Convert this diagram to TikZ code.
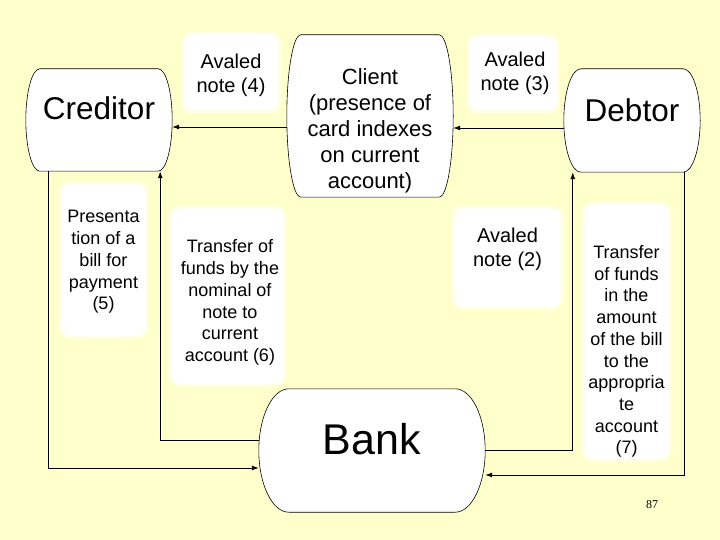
\documentclass[tikz,border=0pt]{standalone}
\usepackage{fontspec}
\setmainfont{Liberation Sans}
\newfontfamily\pgnumfont{Liberation Serif}
\usetikzlibrary{arrows.meta,calc}
\pgfdeclarelayer{bglayer}
\pgfsetlayers{bglayer,main}
\definecolor{bgc}{RGB}{255,255,204}
\newcommand{\drawbarrel}[2]{%
 \filldraw[barrelline] ($(#1.north west)+(#2,0)$) -- ($(#1.north east)+(-#2,0)$)
 .. controls ($(#1.north east)+(-0.45*#2,0)$) and ($(#1.east)!0.55!(#1.north east)$) .. (#1.east)
 .. controls ($(#1.east)!0.55!(#1.south east)$) and ($(#1.south east)+(-0.45*#2,0)$) .. ($(#1.south east)+(-#2,0)$)
 -- ($(#1.south west)+(#2,0)$)
 .. controls ($(#1.south west)+(0.45*#2,0)$) and ($(#1.west)!0.55!(#1.south west)$) .. (#1.west)
 .. controls ($(#1.west)!0.55!(#1.north west)$) and ($(#1.north west)+(0.45*#2,0)$) .. ($(#1.north west)+(#2,0)$) -- cycle;}
\begin{document}
\begin{tikzpicture}[x=1pt,y=-1pt,
 barrel/.style={rectangle, draw=none, inner sep=0pt},
 barrelline/.style={draw=black, line width=0.6pt, fill=white},
 bigfont/.style={font=\fontsize{31.5}{36}\selectfont},
 bankfont/.style={font=\fontsize{43}{48}\selectfont},
 clientfont/.style={font=\fontsize{22}{26}\selectfont, align=center},
 avfont/.style={font=\fontsize{20}{24}\selectfont, align=center},
 smallfont/.style={font=\fontsize{18}{21.7}\selectfont, align=center},
 note/.style={rectangle, fill=white, draw=white!50!bgc, line width=3pt, rounded corners=10pt, inner sep=0pt},
 conn/.style={line width=0.9pt, -{Latex[length=7pt,width=5pt]}},
 ]
\useasboundingbox (0,0) rectangle (720,540);

% main nodes (outlines drawn on background layer)
\node[barrel, minimum width=146pt, minimum height=102pt,
  label={[bigfont, yshift=12pt]center:Creditor}] (cred) at (99,120) {};
\node[barrel, minimum width=166pt, minimum height=162pt,
  label={[clientfont, yshift=-15pt]center:{Client\\(presence of\\card indexes\\on current\\account)}}] (client) at (370,116) {};
\node[barrel, minimum width=136pt, minimum height=103pt,
  label={[bigfont, yshift=10.5pt]center:Debtor}] (debtor) at (632,120.5) {};
\node[barrel, minimum width=226pt, minimum height=123pt,
  label={[bankfont, yshift=11.5pt]center:Bank}] (bank) at (372,450.5) {};

\begin{pgfonlayer}{bglayer}
 \fill[bgc] (0,0) rectangle (720,540);
 \drawbarrel{cred}{14}
 \drawbarrel{client}{14}
 \drawbarrel{debtor}{17}
 \drawbarrel{bank}{30}
\end{pgfonlayer}

% label boxes
\node[note, minimum width=97pt, minimum height=79pt,
  label={[avfont, yshift=-2.5pt]center:{Avaled\\note (4)}}] (av4) at (231,72.5) {};
\node[note, minimum width=90pt, minimum height=77pt,
  label={[avfont, xshift=2pt]center:{Avaled\\note (3)}}] (av3) at (513,73.5) {};
\node[note, minimum width=109pt, minimum height=101pt,
  label={[avfont, yshift=8pt]center:{Avaled\\note (2)}}] (av2) at (507.5,257.5) {};
\node[note, minimum width=87pt, minimum height=154pt,
  label={[smallfont, yshift=-2pt]center:{Presenta\\tion of a\\bill for\\payment\\(5)}}] (pres) at (103.5,260) {};
\node[note, minimum width=115pt, minimum height=178pt,
  label={[smallfont, xshift=2.5pt, yshift=-6.5pt]center:{Transfer of\\funds by the\\nominal of\\note to\\current\\account (6)}}] (tr6) at (227.5,296) {};
\node[note, minimum width=87pt, minimum height=257pt,
  label={[smallfont, yshift=-20pt]center:{Transfer\\of funds\\in the\\amount\\of the bill\\to the\\appropria\\te\\account\\(7)}}] (tr7) at (626.5,331.5) {};

\node[font=\pgnumfont\fontsize{12}{14}\selectfont] (pg) at (652,505) {87};

% connectors
\draw[conn] ($(client.west)+(0,11)$) -- ($(cred.east)+(0,7)$);
\draw[conn] ($(debtor.west)+(0,7.5)$) -- ($(client.east)+(0,12)$);
\draw[conn] ($(cred.south west)+(23,0)$) |- ($(bank.west)+(0,17.5)$);
\draw[conn] ($(bank.west)+(0,-10.5)$) -| ($(cred.south east)+(-12,0)$);
\draw[conn] (bank.east) -| ($(debtor.south west)+(9,0)$);
\draw[conn] ($(debtor.south east)+(-16,0)$) |- ($(bank.east)+(0,24.5)$);
\end{tikzpicture}
\end{document}
